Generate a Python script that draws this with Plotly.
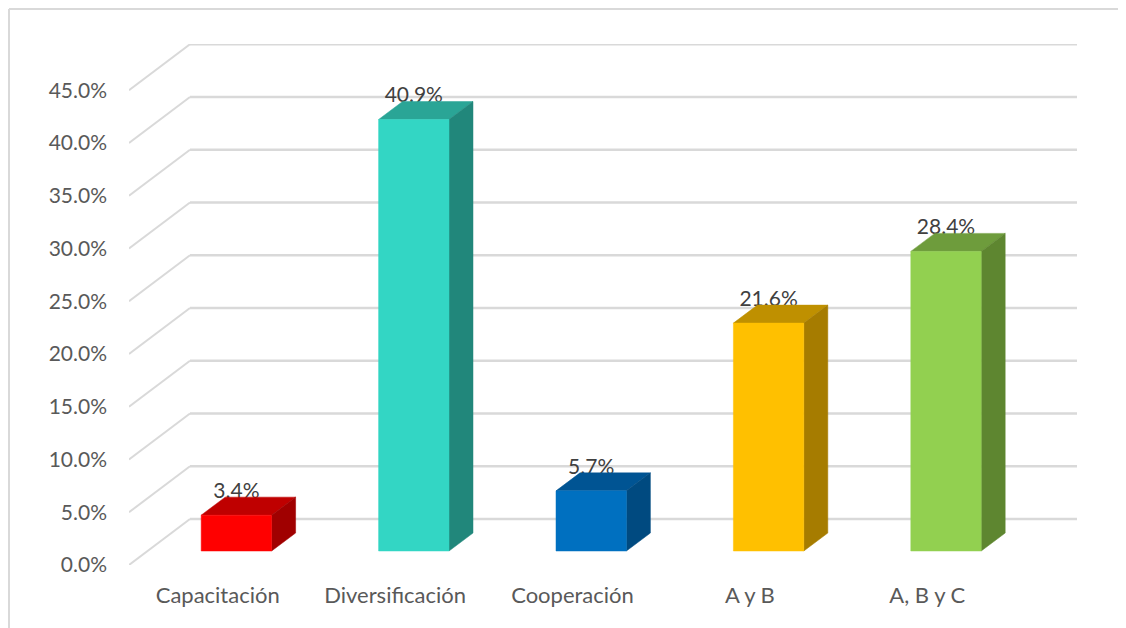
import plotly.graph_objects as go

categories = ['Capacitación', 'Diversificación', 'Cooperación', 'A y B', 'A, B y C']
values = [3.4, 40.9, 5.7, 21.6, 28.4]
labels = ['3.4%', '40.9%', '5.7%', '21.6%', '28.4%']
y_ticks = [0, 5, 10, 15, 20, 25, 30, 35, 40, 45]
y_tick_labels = ['0.0%', '5.0%', '10.0%', '15.0%', '20.0%', '25.0%', '30.0%', '35.0%', '40.0%', '45.0%']

front_colors = ['#FF0000', '#33D6C4', '#0070C0', '#FFC000', '#92D050']
top_colors = ['#BF0000', '#2AA596', '#005493', '#BF9000', '#6E9C3C']
side_colors = ['#A00000', '#21877B', '#004A80', '#A67C00', '#5E8630']

# The page body adds an 8px margin, so the figure is 8px smaller than the window
W, H = 1118, 620
LEFT, RIGHT, TOP, BOTTOM = 121, 1069, 36, 557
PX_X = 177.4   # pixels per category
PX_Y = 10.55   # pixels per percentage point


def dx(px):
    return px / PX_X


def dy(px):
    return px / PX_Y


x_lo = -0.5
x_hi = x_lo + dx(RIGHT - LEFT)
x_wall = x_lo + dx(61)   # back wall corner
y_wall = dy(46)
half = dx(35.2)          # half bar width
bar_dx, bar_dy = dx(18.7), dy(14)    # bar front face, pushed into the floor
side_dx, side_dy = dx(24), dy(18)    # bar depth

fig = go.Figure()

# Gridlines: along the side wall, then along the back wall
for v in y_ticks:
    fig.add_trace(go.Scatter(x=[x_lo, x_wall], y=[v, v + y_wall], mode='lines',
                             line=dict(color='#D9D9D9', width=2), hoverinfo='skip', showlegend=False))
    fig.add_trace(go.Scatter(x=[x_wall, x_hi], y=[v + y_wall, v + y_wall], mode='lines',
                             line=dict(color='#D9D9D9', width=2.5), hoverinfo='skip', showlegend=False))

# Labels go first because the bars cover their lower edge in the original
fig.add_trace(go.Scatter(x=[i + bar_dx for i in range(len(values))],
                         y=[v + bar_dy + dy(22.5) for v in values],
                         mode='text', text=labels, textposition='middle center',
                         textfont=dict(family='Lato', size=21, color='#404040'),
                         hoverinfo='skip', showlegend=False))

for i, v in enumerate(values):
    x0 = i + bar_dx - half
    x1 = i + bar_dx + half
    y0 = bar_dy
    y1 = v + bar_dy
    # top face
    fig.add_trace(go.Scatter(x=[x0, x1, x1 + side_dx, x0 + side_dx, x0],
                             y=[y1, y1, y1 + side_dy, y1 + side_dy, y1],
                             mode='lines', fill='toself', fillcolor=top_colors[i],
                             line=dict(color=top_colors[i], width=0.5), hoverinfo='skip', showlegend=False))
    # side face
    fig.add_trace(go.Scatter(x=[x1, x1 + side_dx, x1 + side_dx, x1, x1],
                             y=[y0, y0 + side_dy, y1 + side_dy, y1, y0],
                             mode='lines', fill='toself', fillcolor=side_colors[i],
                             line=dict(color=side_colors[i], width=0.5), hoverinfo='skip', showlegend=False))
    # front face
    fig.add_trace(go.Scatter(x=[x0, x1, x1, x0, x0],
                             y=[y0, y0, y1, y1, y0],
                             mode='lines', fill='toself', fillcolor=front_colors[i],
                             line=dict(color=front_colors[i], width=0.5), hoverinfo='skip', showlegend=False))

fig.update_layout(
    width=W, height=H,
    autosize=False,
    margin=dict(l=LEFT, r=W - RIGHT, t=TOP, b=H - BOTTOM),
    plot_bgcolor='white',
    paper_bgcolor='white',
    font=dict(family='Lato', color='#595959', size=21),
    xaxis=dict(range=[x_lo, x_hi], tickmode='array', tickvals=list(range(len(categories))),
               ticktext=categories, showgrid=False, zeroline=False, showline=False,
               ticks='', ticklabelstandoff=15, tickfont=dict(size=22)),
    yaxis=dict(range=[0, dy(BOTTOM - TOP)], tickmode='array', tickvals=y_ticks,
               ticktext=y_tick_labels, showgrid=False, zeroline=False, showline=False,
               ticks='', ticklabelstandoff=21, tickfont=dict(size=21)),
    # Frame of the chart area, only the left and top edges are in the crop
    shapes=[
        dict(type='line', xref='paper', yref='paper', layer='below',
             x0=(1 - LEFT) / (RIGHT - LEFT), x1=(1 - LEFT) / (RIGHT - LEFT),
             y0=(BOTTOM - H) / (BOTTOM - TOP), y1=(BOTTOM - 1) / (BOTTOM - TOP),
             line=dict(color='#D9D9D9', width=2)),
        dict(type='line', xref='paper', yref='paper', layer='below',
             x0=(1 - LEFT) / (RIGHT - LEFT), x1=(W - LEFT) / (RIGHT - LEFT),
             y0=(BOTTOM - 1) / (BOTTOM - TOP), y1=(BOTTOM - 1) / (BOTTOM - TOP),
             line=dict(color='#D9D9D9', width=2)),
    ],
)

fig.write_html("out.html")
